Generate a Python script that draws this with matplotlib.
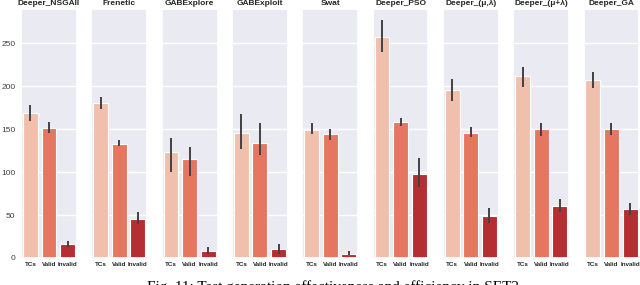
import matplotlib
matplotlib.use("Agg")
import matplotlib.pyplot as plt
import seaborn as sns
import numpy as np

sns.set_theme(style="darkgrid")
plt.rcParams['font.family'] = ['Liberation Sans', 'DejaVu Sans']

tools = ["Deeper_NSGAII", "Frenetic", "GABExplore", "GABExploit", "Swat",
         "Deeper_PSO", "Deeper_(μ,λ)", "Deeper_(μ+λ)", "Deeper_GA"]
categories = ["TCs", "Valid", "Invalid"]

tcs = [169, 180, 124, 146, 149, 257, 196, 212, 207]
tcs_lo = [160, 173, 100, 127, 144, 240, 183, 199, 198]
tcs_hi = [178, 188, 140, 168, 157, 277, 209, 222, 217]

valid = [152, 133, 115, 134, 144, 158, 146, 150, 150]
valid_lo = [146, 131, 95, 120, 138, 154, 141, 142, 143]
valid_hi = [159, 138, 129, 157, 150, 163, 153, 157, 157]

invalid = [16, 45, 8, 10, 5, 98, 49, 61, 57]
invalid_lo = [13, 40, 5, 5, 3, 83, 41, 53, 50]
invalid_hi = [20, 53, 13, 16, 8, 116, 58, 69, 64]

caption = "Fig. 11: Test generation effectiveness and efficiency in SET2"

pal = [sns.desaturate(c, 0.75) for c in sns.color_palette("Reds", 3)]

fig, axes = plt.subplots(1, len(tools), figsize=(6.4, 2.85), dpi=100, sharey=True)
fig.subplots_adjust(left=0.033, right=0.999, bottom=0.095, top=0.968, wspace=0.26)

x = np.arange(len(categories))
for i, ax in enumerate(axes):
    vals = [tcs[i], valid[i], invalid[i]]
    lo = [tcs_lo[i], valid_lo[i], invalid_lo[i]]
    hi = [tcs_hi[i], valid_hi[i], invalid_hi[i]]
    ax.bar(x, vals, width=0.8, color=pal, edgecolor="white", linewidth=0.8, zorder=2)
    yerr = np.array([np.array(vals) - np.array(lo), np.array(hi) - np.array(vals)])
    ax.errorbar(x, vals, yerr=yerr, fmt="none", ecolor="0.26", elinewidth=1.4,
                capsize=0, zorder=3)
    ax.set_xlim(-0.5, 2.5)
    ax.set_ylim(0, 290)
    ax.set_xticks(x)
    ax.set_xticklabels(categories, fontsize=4.5, fontweight="bold", color="0.15")
    ax.xaxis.grid(False)
    ax.set_title(tools[i], fontsize=6, fontweight="bold", pad=3, color="0.15")
    ax.tick_params(axis="x", pad=3, length=0)
    ax.tick_params(axis="y", labelsize=6, pad=4, length=0, labelcolor="0.25")
    ax.set_yticks([0, 50, 100, 150, 200, 250])

fig.text(0.52, 0.016, caption, ha="center", va="top", fontsize=11,
         family=["Liberation Serif", "DejaVu Serif"], color="black")

fig.savefig("out.png", dpi=100)
